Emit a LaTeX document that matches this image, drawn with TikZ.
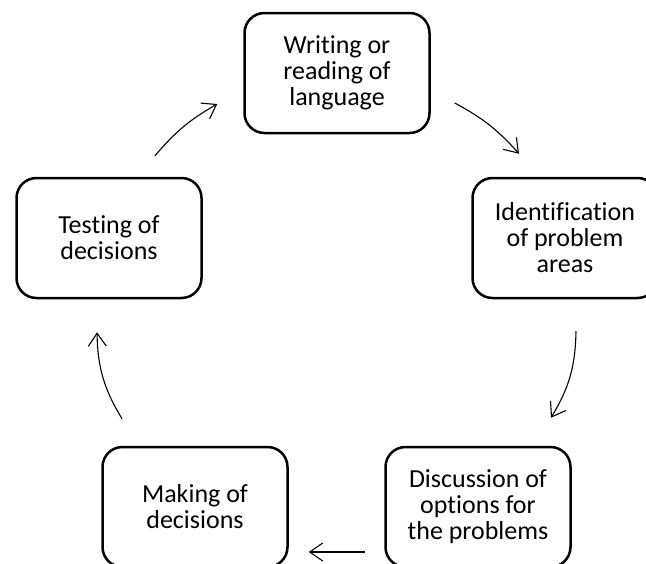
\documentclass[tikz,border=0pt]{standalone}
\usepackage{fontspec}
\setmainfont{Carlito}[Ligatures=NoCommon]
\usetikzlibrary{arrows.meta,calc}
\begin{document}
\begin{tikzpicture}[x=1pt,y=-1pt,
  box/.style={draw,line width=2.5pt,rounded corners=20pt,minimum width=185pt,minimum height=120pt,align=center,font=\fontsize{26}{26}\selectfont},
  flow/.style={line width=1.1pt,-{Straight Barb[length=13pt,width=18pt]}}]
\useasboundingbox (0,0) rectangle (646,563);
\node[box] (write) at (337,73) {Writing or\\reading of\\language};
\node[box] (ident) at (565,238) {Identification\\of problem\\areas};
\node[box] (disc) at (478,507) {Discussion of\\options for\\the problems};
\node[box] (make) at (195,507) {Making of\\decisions};
\node[box] (test) at (109,238) {Testing of\\decisions};
% cycle arrows
\draw[flow] ($(test.north)+(46,-21)$) to[bend left=10] ($(write.west)+(-26,31)$);
\draw[flow] ($(write.east)+(24,30)$) to[bend left=10] ($(ident.north)+(-46,-23)$);
\draw[flow] ($(ident.south)+(11,32)$) to[bend left=15] ($(disc.north)+(73,-28)$);
\draw[flow] ($(disc.west)+(-19,45)$) -- ($(make.east)+(20,45)$);
\draw[flow] ($(make.north)+(-73,-27)$) to[bend left=15] ($(test.south)+(-12,33)$);
\end{tikzpicture}
\end{document}
